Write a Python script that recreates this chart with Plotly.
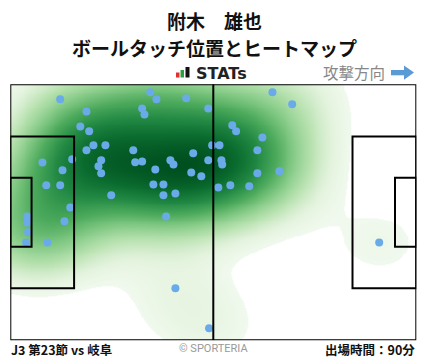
import numpy as np
import plotly.graph_objects as go

# ---- data (pitch coordinates in metres: x 0-105 attacking right, y 0-68 from top) ----
touch_x = [12.9, 19.7, 34.1, 34.7, 18.1, 20.4, 21.5, 24.6, 19.7, 31.8,
           23.5, 32.3, 34.1, 22.8, 8.3, 16.0, 13.5, 23.5, 9.3, 12.9,
           26.1, 15.5, 36.2, 37.8, 45.5, 51.2, 67.8, 57.4, 58.4, 65.2,
           52.2, 54.1, 47.3, 63.9, 41.4, 42.2, 51.2, 54.6, 54.8, 37.5,
           46.8, 49.4, 63.9, 69.6, 37.0, 39.6, 42.7, 39.6, 53.8, 56.9,
           61.8, 72.9, 95.4, 4.4, 4.4, 14.0, 4.6, 4.1, 9.6, 40.3,
           42.7, 51.4]
touch_y = [4.0, 7.2, 6.4, 8.0, 11.2, 12.5, 16.2, 16.2, 17.5, 17.5,
           20.2, 20.7, 20.5, 21.8, 20.8, 19.9, 22.8, 23.6, 26.8, 26.8,
           29.5, 32.7, 2.1, 4.0, 3.7, 6.4, 2.1, 10.9, 12.5, 14.1,
           16.2, 16.2, 18.3, 17.5, 20.2, 21.3, 20.2, 20.2, 21.3, 22.6,
           23.4, 24.4, 23.6, 23.1, 26.6, 26.6, 29.0, 29.5, 27.4, 26.8,
           27.1, 5.3, 42.0, 35.1, 36.7, 36.4, 39.3, 42.0, 42.0, 35.1,
           54.2, 64.8]

title_name = "附木　雄也"
title_sub = "ボールタッチ位置とヒートマップ"
match_label = "J3 第23節 vs 岐阜"
minutes_label = "出場時間：90分"
direction_label = "攻撃方向"

W, H = 428, 359
PITCH_L, PITCH_R, PITCH_T, PITCH_B = 10.3, 416.3, 84.3, 340.3

def px(x):
    return x / W

def py(y):
    return 1 - y / H

# ---- KDE heat map computed from the touches ----
gx = np.linspace(0, 105, 211)
gy = np.linspace(0, 68, 137)
GX, GY = np.meshgrid(gx, gy)
tx = np.array(touch_x)
ty = np.array(touch_y)
sx, sy = 11.0, 8.5
Z = np.zeros_like(GX)
for a, b in zip(tx, ty):
    Z += np.exp(-0.5 * (((GX - a) / sx) ** 2 + ((GY - b) / sy) ** 2))
Z = Z / Z.max()

colorscale = [
    [0.0, "#ffffff"], [0.045, "#ffffff"], [0.045, "#f1f9ee"],
    [0.1, "#e3f3dd"], [0.2, "#b8e2b0"], [0.33, "#84ca86"],
    [0.48, "#4caa5c"], [0.65, "#228944"], [0.82, "#0b6c2f"], [1.0, "#00501f"],
]

fig = go.Figure()
fig.add_trace(go.Heatmap(
    x=gx, y=gy, z=Z, colorscale=colorscale, zmin=0, zmax=1,
    showscale=False, zsmooth="best", hoverinfo="skip",
))
fig.add_trace(go.Scatter(
    x=touch_x, y=touch_y, mode="markers",
    marker=dict(size=8, color="#6aaae8"), hoverinfo="skip",
))

# ---- pitch lines ----
line = dict(color="black", width=2)
shapes = [
    dict(type="rect", x0=0, x1=105, y0=0, y1=68),
    dict(type="line", x0=52.5, x1=52.5, y0=0, y1=68),
    dict(type="rect", x0=0, x1=16.5, y0=13.84, y1=54.16),
    dict(type="rect", x0=88.5, x1=105, y0=13.84, y1=54.16),
    dict(type="rect", x0=0, x1=5.5, y0=24.84, y1=43.16),
    dict(type="rect", x0=99.5, x1=105, y0=24.84, y1=43.16),
]
for s in shapes:
    s.update(xref="x", yref="y", line=line, layer="above")
    fig.add_shape(**s)

# ---- STATs logo bars ----
for (x0, x1, ytop, col) in [(176, 179.5, 72.5, "#e03030"), (180.5, 184, 70, "#2aa040"), (185.5, 189.5, 67, "#111111")]:
    fig.add_shape(type="rect", xref="paper", yref="paper",
                  x0=px(x0), x1=px(x1), y0=py(77.5), y1=py(ytop),
                  fillcolor=col, line=dict(width=0))

# ---- direction arrow ----
fig.add_shape(type="rect", xref="paper", yref="paper",
              x0=px(391), x1=px(405), y0=py(75.3), y1=py(70),
              fillcolor="#5b9bd5", line=dict(width=0))
fig.add_shape(type="path", xref="paper", yref="paper",
              path=f"M {px(404)} {py(65.5)} L {px(414)} {py(72.6)} L {px(404)} {py(79.7)} Z",
              fillcolor="#5b9bd5", line=dict(width=0))

jp = "Noto Sans CJK JP"
ann = [
    dict(text=f"<b>{title_name}</b>", x=px(214), y=py(20), size=19, color="#111", xanchor="center"),
    dict(text=f"<b>{title_sub}</b>", x=px(214), y=py(47), size=19, color="#111", xanchor="center"),
    dict(text="<b>STATs</b>", x=px(195), y=py(73), size=16, color="#222", xanchor="left", font="DejaVu Sans"),
    dict(text=direction_label, x=px(386), y=py(72), size=15.5, color="#888", xanchor="right"),
    dict(text=f"<b>{match_label}</b>", x=px(10), y=py(349), size=12.5, color="#111", xanchor="left"),
    dict(text="© SPORTERIA", x=px(213), y=py(348), size=11, color="#999", xanchor="center", font="Roboto"),
    dict(text=f"<b>{minutes_label}</b>", x=px(416), y=py(349), size=12.5, color="#111", xanchor="right"),
]
for a in ann:
    fig.add_annotation(text=a["text"], x=a["x"], y=a["y"], xref="paper", yref="paper",
                       xanchor=a["xanchor"], yanchor="middle", showarrow=False, borderpad=0,
                       font=dict(family=a.get("font", jp), size=a["size"], color=a["color"]))

fig.update_layout(
    width=W, height=H, margin=dict(l=0, r=0, t=0, b=0),
    paper_bgcolor="white", plot_bgcolor="white", showlegend=False,
    xaxis=dict(range=[0, 105], domain=[px(PITCH_L), px(PITCH_R)], visible=False, fixedrange=True),
    yaxis=dict(range=[68, 0], domain=[py(PITCH_B), py(PITCH_T)], visible=False, fixedrange=True),
)
fig.write_html("out.html", config={"displayModeBar": False})
